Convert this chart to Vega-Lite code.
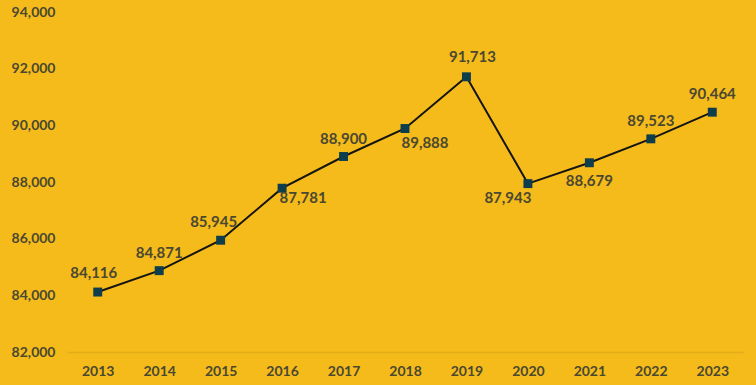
{
  "$schema": "https://vega.github.io/schema/vega-lite/v6.json",
  "width": 676,
  "height": 340,
  "autosize": "none",
  "padding": {"left": 67, "top": 12, "right": 13, "bottom": 33},
  "background": "#F5BB1B",
  "config": {"view": {"stroke": null}, "font": "Lato", "text": {"fontSize": 15, "fontWeight": "bold", "color": "#4A4830", "font": "Lato"}},
  "data": {"values": [
    {"year": "2013", "value": 84116},
    {"year": "2014", "value": 84871},
    {"year": "2015", "value": 85945},
    {"year": "2016", "value": 87781},
    {"year": "2017", "value": 88900},
    {"year": "2018", "value": 89888},
    {"year": "2019", "value": 91713},
    {"year": "2020", "value": 87943},
    {"year": "2021", "value": 88679},
    {"year": "2022", "value": 89523},
    {"year": "2023", "value": 90464}
  ]},
  "encoding": {
    "x": {"field": "year", "type": "ordinal", "scale": {"type": "point", "padding": 0.5},
      "axis": {"title": null, "labelAngle": 0, "ticks": false, "domainColor": "#E3AD1A", "domainWidth": 1.5, "labelFont": "Lato", "labelFontWeight": "bold", "labelFontSize": 14, "labelColor": "#4A4830", "labelPadding": 12}},
    "y": {"field": "value", "type": "quantitative", "scale": {"domain": [82000, 94000], "nice": false, "zero": false},
      "axis": {"title": null, "values": [82000, 84000, 86000, 88000, 90000, 92000, 94000], "format": ",.0f", "ticks": false, "domain": false, "grid": false, "labelFont": "Lato", "labelFontWeight": "bold", "labelFontSize": 14, "labelColor": "#4A4830", "labelPadding": 12}}
  },
  "layer": [
    {"mark": {"type": "line", "color": "#151515", "strokeWidth": 2}},
    {"mark": {"type": "square", "size": 80, "color": "#0E3D4C", "opacity": 1, "filled": true}},
    {"transform": [{"filter": {"field": "year", "oneOf": ["2014", "2017", "2022", "2023"]}}],
      "mark": {"type": "text", "dy": -18},
      "encoding": {"text": {"field": "value", "type": "quantitative", "format": ",.0f"}}},
    {"transform": [{"filter": {"field": "year", "oneOf": ["2013"]}}],
      "mark": {"type": "text", "dy": -19, "dx": -4},
      "encoding": {"text": {"field": "value", "type": "quantitative", "format": ",.0f"}}},
    {"transform": [{"filter": {"field": "year", "oneOf": ["2015"]}}],
      "mark": {"type": "text", "dy": -18, "dx": -7},
      "encoding": {"text": {"field": "value", "type": "quantitative", "format": ",.0f"}}},
    {"transform": [{"filter": {"field": "year", "oneOf": ["2019"]}}],
      "mark": {"type": "text", "dy": -20, "dx": 6},
      "encoding": {"text": {"field": "value", "type": "quantitative", "format": ",.0f"}}},
    {"transform": [{"filter": {"field": "year", "oneOf": ["2018"]}}],
      "mark": {"type": "text", "dy": 14, "dx": 20},
      "encoding": {"text": {"field": "value", "type": "quantitative", "format": ",.0f"}}},
    {"transform": [{"filter": {"field": "year", "oneOf": ["2020"]}}],
      "mark": {"type": "text", "dy": 14, "dx": -20},
      "encoding": {"text": {"field": "value", "type": "quantitative", "format": ",.0f"}}},
    {"transform": [{"filter": {"field": "year", "oneOf": ["2021"]}}],
      "mark": {"type": "text", "dy": 18},
      "encoding": {"text": {"field": "value", "type": "quantitative", "format": ",.0f"}}},
    {"transform": [{"filter": {"field": "year", "oneOf": ["2016"]}}],
      "mark": {"type": "text", "dx": 21, "dy": 10},
      "encoding": {"text": {"field": "value", "type": "quantitative", "format": ",.0f"}}}
  ]
}
